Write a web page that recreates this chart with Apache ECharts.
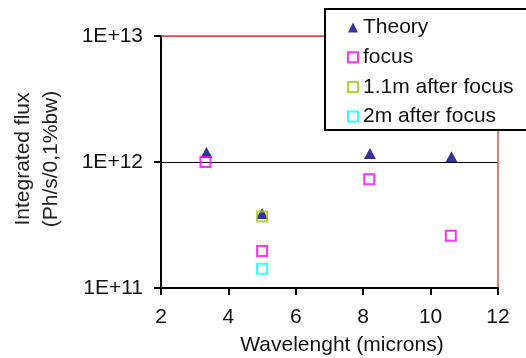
<!DOCTYPE html>
<html>
<head>
<meta charset="utf-8">
<script src="https://cdn.jsdelivr.net/npm/echarts@6/dist/echarts.min.js"></script>
<style>
  html, body { margin: 0; padding: 0; background: #fff; }
  #chart { width: 526px; height: 358px; }
</style>
</head>
<body>
<div id="chart"></div>
<script>
// Measured integrated flux against wavelength
const theoryX = [3.35, 5.0, 8.2, 10.62];
const theoryY = [1.19e12, 3.9e11, 1.17e12, 1.1e12];

const focusX = [3.32, 5.0, 8.18, 10.6];
const focusY = [1.0e12, 1.97e11, 7.3e11, 2.6e11];

const after11X = [5.0];
const after11Y = [3.7e11];

const after2X = [5.0];
const after2Y = [1.42e11];

const seriesNames = ['Theory', 'focus', '1.1m after focus', '2m after focus'];
const xTicks = [2, 4, 6, 8, 10, 12];
const yTickLabels = { 11: '1E+11', 12: '1E+12', 13: '1E+13' };

const FONT = '"Liberation Sans", Arial, sans-serif';
const RED = '#e04848';

const zip = (xs, ys) => xs.map((x, i) => [x, ys[i]]);

const chart = echarts.init(document.getElementById('chart'), null, { renderer: 'canvas' });

chart.setOption({
  animation: false,
  backgroundColor: '#fff',
  grid: { left: 161, right: 28, top: 36, bottom: 70, containLabel: false },
  xAxis: [
    {
      type: 'value',
      min: xTicks[0],
      max: xTicks[xTicks.length - 1],
      interval: 2,
      position: 'bottom',
      axisLine: { show: true, onZero: false, lineStyle: { color: '#000', width: 2 } },
      axisTick: { show: true, inside: false, length: 7, lineStyle: { color: '#000', width: 2 } },
      axisLabel: { color: '#111', fontFamily: FONT, fontSize: 21, margin: 19 },
      splitLine: { show: false }
    },
    {
      type: 'value',
      min: xTicks[0],
      max: xTicks[xTicks.length - 1],
      position: 'top',
      axisLine: { show: true, onZero: false, lineStyle: { color: RED, width: 1.5 } },
      axisTick: { show: false },
      axisLabel: { show: false },
      splitLine: { show: false }
    }
  ],
  yAxis: [
    {
      type: 'log',
      logBase: 10,
      min: 1e11,
      max: 1e13,
      axisLine: { show: true, onZero: false, lineStyle: { color: '#000', width: 2 } },
      axisTick: { show: true, inside: false, length: 7, lineStyle: { color: '#000', width: 2 } },
      axisLabel: {
        color: '#111', fontFamily: FONT, fontSize: 21, margin: 18,
        formatter: v => yTickLabels[Math.round(Math.log10(v))] || ''
      },
      splitLine: { show: true, lineStyle: { color: ['#000', '#000', RED], width: 1.2 } }
    },
    {
      type: 'log',
      logBase: 10,
      min: 1e11,
      max: 1e13,
      position: 'right',
      axisLine: { show: true, onZero: false, lineStyle: { color: RED, width: 1.5 } },
      axisTick: { show: false },
      axisLabel: { show: false },
      splitLine: { show: false }
    }
  ],
  legend: {
    orient: 'vertical',
    left: 342,
    top: 12,
    itemWidth: 10,
    itemHeight: 10,
    itemGap: 8.7,
    itemTextGap: 9,
    selectedMode: false,
    textStyle: { color: '#111', fontFamily: FONT, fontSize: 21, lineHeight: 19.7 },
    data: [
      { name: seriesNames[0], icon: 'triangle', itemStyle: { color: '#000080' } },
      { name: seriesNames[1], icon: 'rect', itemStyle: { color: '#fff', borderColor: '#ff00ff', borderWidth: 2 } },
      { name: seriesNames[2], icon: 'rect', itemStyle: { color: '#fff', borderColor: '#99cc00', borderWidth: 2 } },
      { name: seriesNames[3], icon: 'rect', itemStyle: { color: '#fff', borderColor: '#00ffff', borderWidth: 2 } }
    ],
    z: 10
  },
  graphic: [
    {
      type: 'rect',
      shape: { x: 325, y: 9, width: 230, height: 121 },
      style: { fill: '#fff', stroke: '#000', lineWidth: 2 },
      z: 9
    },
    {
      type: 'text',
      x: 342, y: 345,
      style: {
        text: 'Wavelenght (microns)', fill: '#111', font: '21px ' + FONT,
        align: 'center', verticalAlign: 'middle'
      }
    },
    {
      type: 'text',
      x: 37, y: 159,
      rotation: Math.PI / 2,
      style: {
        text: 'Integrated flux\n(Ph/s/0,1%bw)', fill: '#222', font: '21px ' + FONT,
        lineHeight: 28, align: 'center', verticalAlign: 'middle'
      }
    }
  ],
  series: [
    {
      name: seriesNames[0], type: 'scatter',
      symbol: 'triangle', symbolSize: [12, 11],
      itemStyle: { color: '#000080' },
      data: zip(theoryX, theoryY)
    },
    {
      name: seriesNames[1], type: 'scatter',
      symbol: 'rect', symbolSize: 10,
      itemStyle: { color: 'rgba(0,0,0,0)', borderColor: '#ff00ff', borderWidth: 2 },
      data: zip(focusX, focusY)
    },
    {
      name: seriesNames[2], type: 'scatter',
      symbol: 'rect', symbolSize: 10,
      itemStyle: { color: 'rgba(0,0,0,0)', borderColor: '#99cc00', borderWidth: 2 },
      data: zip(after11X, after11Y)
    },
    {
      name: seriesNames[3], type: 'scatter',
      symbol: 'rect', symbolSize: 10,
      itemStyle: { color: 'rgba(0,0,0,0)', borderColor: '#00ffff', borderWidth: 2 },
      data: zip(after2X, after2Y)
    }
  ]
});
</script>
</body>
</html>
